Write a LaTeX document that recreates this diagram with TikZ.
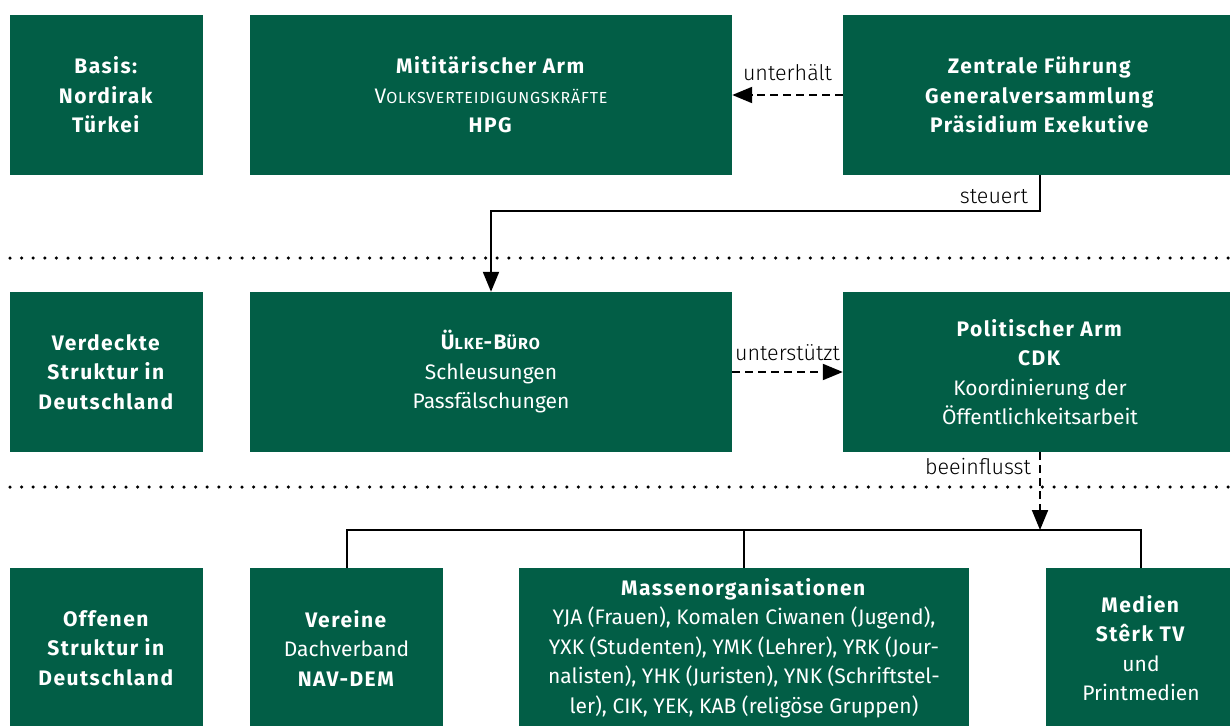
\documentclass[tikz,border=0pt]{standalone}
\usepackage{fontspec}
\setmainfont[BoldFeatures={LetterSpace=7}]{Fira Sans}
\newfontfamily\lightfont{Fira Sans Light}
\usetikzlibrary{arrows.meta}
\definecolor{boxgreen}{RGB}{2,94,70}
\newcommand{\fsc}[1]{{\fontsize{16}{29.5}\selectfont\addfontfeatures{LetterSpace=5}#1}}
\begin{document}
\begin{tikzpicture}[x=1pt,y=-1pt,
  box/.style={fill=boxgreen, text=white, align=center, inner sep=0pt,
    minimum height=160pt, font=\fontsize{21}{29.5}\selectfont},
  lbl/.style={font=\lightfont\fontsize{21.5}{24}\selectfont, text=black, inner sep=2pt},
  conn/.style={line width=2pt, -{Triangle[length=20pt,width=16pt]}},
  dconn/.style={conn, dash pattern=on 8pt off 5pt},
  tree/.style={line width=2pt},
  dotline/.style={line width=3.5pt, line cap=round, dash pattern=on 0pt off 11.6pt}
]
\useasboundingbox (0,0) rectangle (1230,725);

% row 1
\node[box, minimum width=193pt] (basis) at (106.5,95) {\textbf{Basis:}\\\textbf{Nordirak}\\\textbf{Türkei}};
\node[box, minimum width=482pt] (mil) at (491,95) {\textbf{Mititärischer Arm}\\V\fsc{OLKSVERTEIDIGUNGSKRÄFTE}\\\textbf{HPG}};
\node[box, minimum width=394pt] (zf) at (1040,95) {\textbf{Zentrale Führung}\\\textbf{Generalversammlung}\\\textbf{Präsidium Exekutive}};

% row 2
\node[box, minimum width=193pt] (verd) at (106.5,372) {\textbf{Verdeckte}\\\textbf{Struktur in}\\\textbf{Deutschland}};
\node[box, minimum width=482pt] (uelke) at (491,372) {\textbf{Ü\fsc{LKE}-B\fsc{ÜRO}}\\Schleusungen\\Passfälschungen};
\node[box, minimum width=394pt] (pol) at (1040,372) {\textbf{Politischer Arm}\\\textbf{CDK}\\Koordinierung der\\Öffentlichkeitsarbeit};

% row 3
\node[box, minimum width=193pt] (off) at (106.5,648) {\textbf{Offenen}\\\textbf{Struktur in}\\\textbf{Deutschland}};
\node[box, minimum width=193pt] (ver) at (346.5,648) {\textbf{Vereine}\\Dachverband\\\textbf{NAV-DEM}};
\node[box, minimum width=450pt] (mas) at (744,648) {\textbf{Massenorganisationen}\\YJA (Frauen), Komalen Ciwanen (Jugend),\\YXK (Studenten), YMK (Lehrer), YRK (Jour-\\nalisten), YHK (Juristen), YNK (Schriftstel-\\ler), CIK, YEK, KAB (religöse Gruppen)};
\node[box, minimum width=190pt] (med) at (1141,648) {\textbf{Medien}\\\textbf{Stêrk TV}\\und\\Printmedien};

% separators
\draw[dotline] (10,258) -- (1230,258);
\draw[dotline] (10,487) -- (1230,487);

% connectors
\draw[dconn] (zf.west) -- (mil.east) node[lbl, midway, above, yshift=11pt] {unterhält};
\draw[dconn] (uelke.east) -- (pol.west) node[lbl, midway, above, yshift=8pt] {unterstützt};
\coordinate (s1) at ([yshift=-36pt]zf.south);
\draw[conn] (zf.south) -- (s1) -| (uelke.north);
\node[lbl, anchor=south east] (steuertlbl) at ([xshift=-10pt,yshift=5pt]s1) {steuert};
\coordinate (bar) at (744,530);
\draw[tree] (ver.north) -- (ver.north |- bar) -- (med.north |- bar) -- (med.north);
\draw[tree] (mas.north) -- (mas.north |- bar);
\draw[dconn] (pol.south) -- (pol.south |- bar) node[lbl, pos=0.19, left, xshift=-6pt] {beeinflusst};
\end{tikzpicture}
\end{document}
